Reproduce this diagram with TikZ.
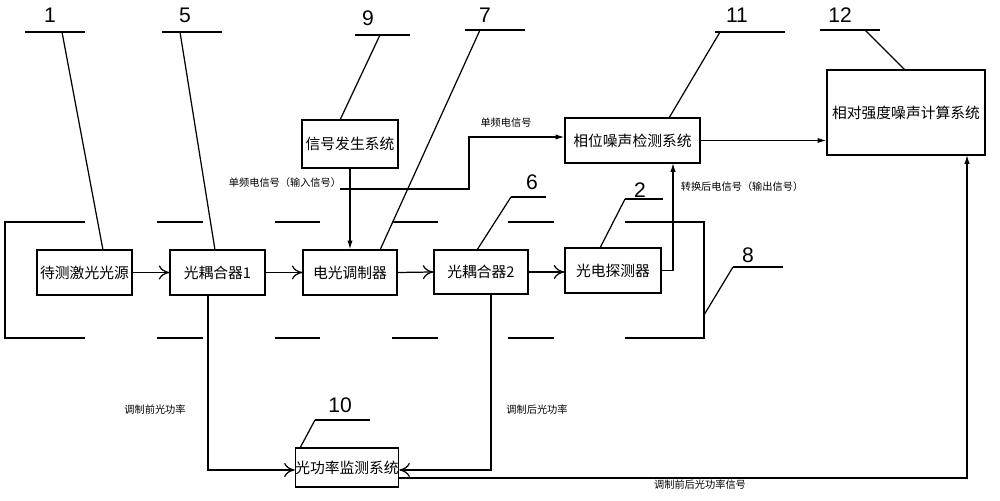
\documentclass[tikz,border=0pt]{standalone}
\usepackage{fontspec}
\setmainfont{Liberation Sans}
\newfontfamily\cjk{Noto Sans CJK SC}
\usetikzlibrary{arrows.meta}
\begin{document}
\begin{tikzpicture}[x=0.01cm,y=-0.01cm,line width=0.35pt,
  box/.style={draw,inner sep=0,font=\cjk\fontsize{4.2}{4.2}\selectfont},
  lab/.style={font=\cjk\fontsize{2.9}{3}\selectfont,inner sep=0},
  num/.style={font=\fontsize{6}{6}\selectfont,inner sep=0},
  oa/.style={-{To[length=3pt,width=4pt]}},
  fa/.style={-{Latex[length=2.5pt,width=1.5pt]}}]
\useasboundingbox (0,0) rectangle (1000,501);
\node[box,minimum width=0.95cm,minimum height=0.45cm] (A) at (84.5,272.5) {待测激光光源};
\node[box,minimum width=0.95cm,minimum height=0.45cm] (B) at (217.5,272.5) {光耦合器1};
\node[box,minimum width=0.94cm,minimum height=0.45cm] (C) at (350,272.5) {电光调制器};
\node[box,minimum width=0.94cm,minimum height=0.44cm] (D) at (481,272) {光耦合器2};
\node[box,minimum width=0.96cm,minimum height=0.45cm] (E) at (613,270.5) {光电探测器};
\node[box,minimum width=0.96cm,minimum height=0.48cm] (G) at (350,144) {信号发生系统};
\node[box,minimum width=1.35cm,minimum height=0.45cm] (P) at (632.5,140.5) {相位噪声检测系统};
\node[box,minimum width=1.58cm,minimum height=0.85cm] (R) at (906,112.5) {相对强度噪声计算系统};
\node[box,minimum width=1.0cm,minimum height=0.39cm] (M) at (347,467.5) {光功率监测系统};
% dashed enclosure
\draw (85,222)--(5,222)--(5,338)--(85,338);
\foreach \a/\b in {157/203,275/320,392/438,508/554}{\draw (\a,222)--(\b,222); \draw (\a,338)--(\b,338);}
\draw (625,222)--(704,222)--(704,338)--(625,338);
% flow arrows
\draw[oa] (A.east)--(B.west);
\draw[oa] (B.east)--(C.west);
\draw[oa] (C.east)--(D.west);
\draw[oa] (D.east)--(E.west|-D.east);
\draw[fa] (G.south)--(C.north);
\coordinate (s1) at (340,189);
\draw[fa] (s1)--(469,189)--(469,137)--(P.west|-0,137);
\draw[fa] (E.east)--(673,270.5)--(673,163);
\draw[fa] (P.east)--(R.west|-P.east);
\draw[oa] (208,295)--(208,470)--(M.west|-0,470);
\draw[oa] (491,294)--(491,470)--(M.east|-0,470);
\draw[fa] (M.east|-0,478)--(967,478)--(967,155);
% labels
\node[lab] at (285,183) {单频电信号（输入信号）};
\node[lab] at (506,123) {单频电信号};
\node[lab] at (742,187) {转换后电信号（输出信号）};
\node[lab] at (155,410) {调制前光功率};
\node[lab] at (537,410) {调制后光功率};
\node[lab] at (700,485) {调制前后光功率信号};
% callouts
\node[num] at (50,15) {1}; \draw (25,32)--(85,32); \draw (62,32)--(103,250);
\node[num] at (185,15) {5}; \draw (162,32)--(222,32); \draw (180,32)--(215,250);
\node[num] at (368,18) {9}; \draw (355,35)--(410,35); \draw (380,35)--(340,120);
\node[num] at (485,15) {7}; \draw (465,30)--(525,30); \draw (480,30)--(380,250);
\node[num] at (737,15) {11}; \draw (715,32)--(785,32); \draw (720,32)--(669,118);
\node[num] at (840,15) {12}; \draw (820,30)--(880,30); \draw (865,30)--(905,70);
\node[num] at (532,182) {6}; \draw (511,197)--(546,197); \draw (511,197)--(477,250);
\node[num] at (640,190) {2}; \draw (625,199)--(663,199); \draw (625,199)--(600,248);
\node[num] at (748,255) {8}; \draw (783,267)--(733,267); \draw (783,267)--(783,267); \draw (733,267)--(704,315);
\node[num] at (340,405) {10}; \draw (315,420)--(370,420); \draw (315,420)--(300,448);
\end{tikzpicture}
\end{document}
